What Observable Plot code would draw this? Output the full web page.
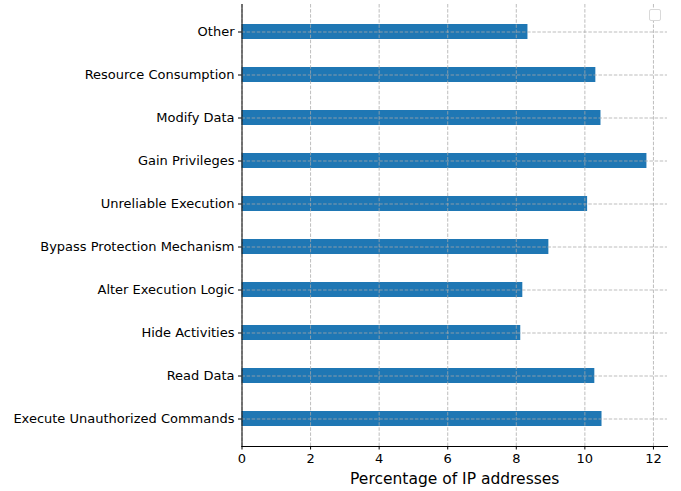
<!DOCTYPE html>
<html>
<head>
<meta charset="utf-8">
<script src="https://cdn.jsdelivr.net/npm/d3@7"></script>
<script src="https://cdn.jsdelivr.net/npm/@observablehq/plot@0.6"></script>
<style>
  html, body { margin: 0; padding: 0; background: #fff; }
  #chart { position: relative; width: 681px; height: 491px; }
  #legend { position: absolute; left: 649px; top: 9px; width: 10px; height: 10px;
            border: 1px solid #d9d9d9; border-radius: 2px; background: #fff; }
</style>
</head>
<body>
<div id="chart"><div id="legend"></div></div>
<script>
const categories = [
  "Other",
  "Resource Consumption",
  "Modify Data",
  "Gain Privileges",
  "Unreliable Execution",
  "Bypass Protection Mechanism",
  "Alter Execution Logic",
  "Hide Activities",
  "Read Data",
  "Execute Unauthorized Commands"
];
const values = [8.34, 10.32, 10.47, 11.81, 10.08, 8.95, 8.19, 8.13, 10.29, 10.50];
const xTicks = [0, 2, 4, 6, 8, 10, 12];
const xLabel = "Percentage of IP addresses";

const data = categories.map((c, i) => ({category: c, value: values[i]}));

const font = "DejaVu Sans, sans-serif";
const chart = Plot.plot({
  width: 681,
  height: 491,
  marginLeft: 241.5,
  marginRight: 14,
  marginTop: 4,
  marginBottom: 45,
  style: {fontFamily: font, fontSize: "13px", color: "#000", background: "#fff"},
  x: {domain: [0, 12.41], ticks: xTicks, label: null},
  y: {domain: categories, paddingInner: 0.64, paddingOuter: 0.447, label: null},
  marks: [
    Plot.barX(data, {x: "value", y: "category", fill: "#1f77b4"}),
    Plot.gridX(xTicks, {stroke: "#a8a8a8", strokeOpacity: 0.85, strokeWidth: 0.9, strokeDasharray: "3.5,1.6"}),
    Plot.gridY(categories, {stroke: "#a8a8a8", strokeOpacity: 0.85, strokeWidth: 0.9, strokeDasharray: "3.5,1.6"}),
    Plot.axisX({ticks: xTicks, tickSize: 3.5, tickPadding: 4, fontSize: 13, label: null, tickFormat: d => String(d)}),
    Plot.axisY({tickSize: 3.5, tickPadding: 4, fontSize: 13, label: null}),
    Plot.frame({anchor: "bottom", stroke: "#000", strokeWidth: 1}),
    Plot.frame({anchor: "left", stroke: "#000", strokeWidth: 1}),
    Plot.text([xLabel], {frameAnchor: "bottom", dy: 37, fontSize: 15.5, fill: "#000", text: d => d})
  ]
});
document.getElementById("chart").prepend(chart);
</script>
</body>
</html>
